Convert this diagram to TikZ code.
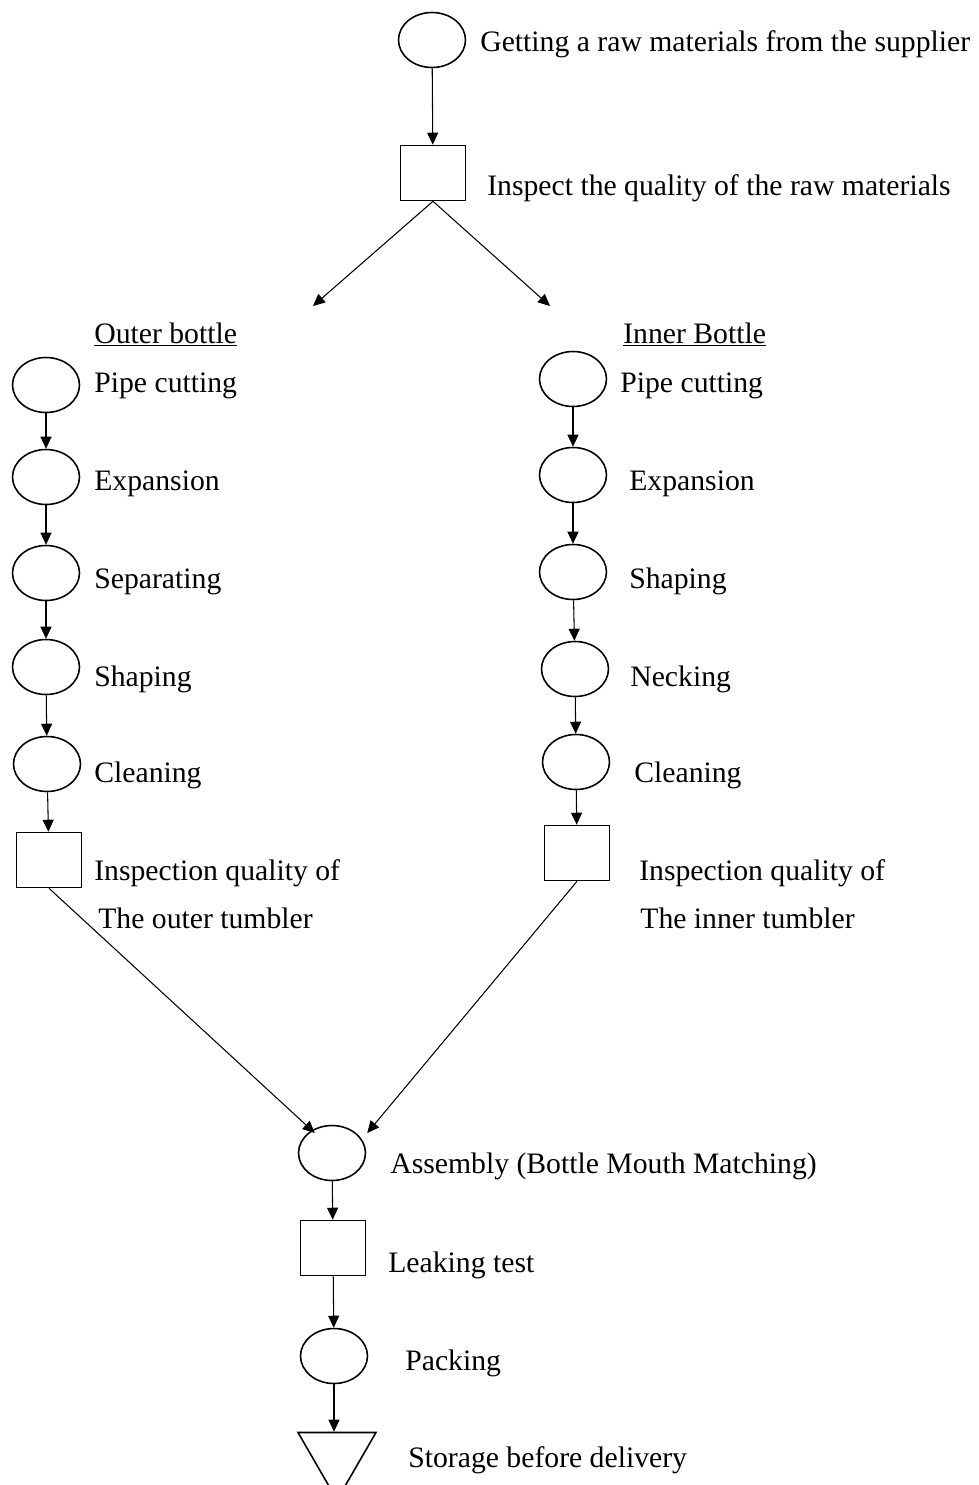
\documentclass[tikz,border=0pt]{standalone}
\usepackage{fontspec}
\setmainfont{Liberation Serif}
\usepackage{tikz}
\usetikzlibrary{arrows.meta, positioning, shapes.geometric}

\begin{document}
\begin{tikzpicture}[
    x=0.02cm, y=-0.02cm,
    op/.style={ellipse, draw, line width=0.9pt, minimum width=1.34cm, minimum height=1.1cm, inner sep=0pt},
    insp/.style={rectangle, draw, line width=0.9pt, minimum width=1.3cm, minimum height=1.1cm, inner sep=0pt},
    store/.style={regular polygon, regular polygon sides=3, shape border rotate=180, draw,
                  line width=0.9pt, minimum size=1.8cm, inner sep=0pt},
    lbl/.style={anchor=base west, inner sep=0pt, font=\fontsize{16.9}{20}\selectfont},
    arr/.style={-{Triangle[length=2.4mm, width=2.2mm]}, line width=0.6pt},
]
\useasboundingbox (0,0) rectangle (978,1485);

% raw material
\node[op] (get) at (432,40) {};
\node[lbl] (lget) at (480,51) {Getting a raw materials from the supplier};
\node[insp] (chk) at (433,173) {};
\node[lbl] (lchk) at (487,195) {Inspect the quality of the raw materials};
\coordinate (splitl) at (313,306);
\coordinate (splitr) at (550,306);

% outer bottle
\node[lbl] (hout) at (94,343) {\underline{Outer bottle}};
\node[op] (o1) at (46,385) {};
\node[op] (o2) at (46,477) {};
\node[op] (o3) at (46,573) {};
\node[op] (o4) at (46,667) {};
\node[op] (o5) at (47,764) {};
\node[insp] (o6) at (49,860) {};
\node[lbl] (lo1) at (94,392) {Pipe cutting};
\node[lbl] (lo2) at (94,490) {Expansion};
\node[lbl] (lo3) at (94,588) {Separating};
\node[lbl] (lo4) at (94,686) {Shaping};
\node[lbl] (lo5) at (94,782) {Cleaning};
\node[lbl] (lo6) at (94,880) {Inspection quality of};
\node[lbl] (lo7) at (98,928) {The outer tumbler};

% inner bottle
\node[lbl] (hin) at (623,343) {\underline{Inner Bottle}};
\node[op] (i1) at (573,379) {};
\node[op] (i2) at (573,475) {};
\node[op] (i3) at (573,572) {};
\node[op] (i4) at (575,669) {};
\node[op] (i5) at (576,762) {};
\node[insp] (i6) at (577,853) {};
\node[lbl] (li1) at (620,392) {Pipe cutting};
\node[lbl] (li2) at (629,490) {Expansion};
\node[lbl] (li3) at (629,588) {Shaping};
\node[lbl] (li4) at (630,686) {Necking};
\node[lbl] (li5) at (634,782) {Cleaning};
\node[lbl] (li6) at (639,880) {Inspection quality of};
\node[lbl] (li7) at (640,928) {The inner tumbler};

% final steps
\node[op] (asm) at (332,1153) {};
\node[lbl] (lasm) at (390,1173) {Assembly (Bottle Mouth Matching)};
\node[insp] (leak) at (333,1248) {};
\node[lbl] (lleak) at (388,1272) {Leaking test};
\node[op] (pack) at (334,1356) {};
\node[lbl] (lpack) at (405,1370) {Packing};
\node[store] (sto) at (337,1455) {};
\node[lbl] (lsto) at (408,1467) {Storage before delivery};

\draw[arr] (get) -- (chk);
\draw[arr] (chk.south) -- (splitl);
\draw[arr] (chk.south) -- (splitr);

\draw[arr] (o1) -- (o2);
\draw[arr] (o2) -- (o3);
\draw[arr] (o3) -- (o4);
\draw[arr] (o4) -- (o5);
\draw[arr] (o5) -- (o6);

\draw[arr] (i1) -- (i2);
\draw[arr] (i2) -- (i3);
\draw[arr] (i3) -- (i4);
\draw[arr] (i4) -- (i5);
\draw[arr] (i5) -- (i6);

\draw[arr] (o6.south) -- ([xshift=0.14cm]asm.north west);
\draw[arr] (i6.south) -- ([xshift=0.22cm]asm.north east);
\draw[arr] (asm) -- (leak);
\draw[arr] (leak) -- (pack);
\draw[arr] (pack) -- (pack |- sto.north);

\end{tikzpicture}
\end{document}
